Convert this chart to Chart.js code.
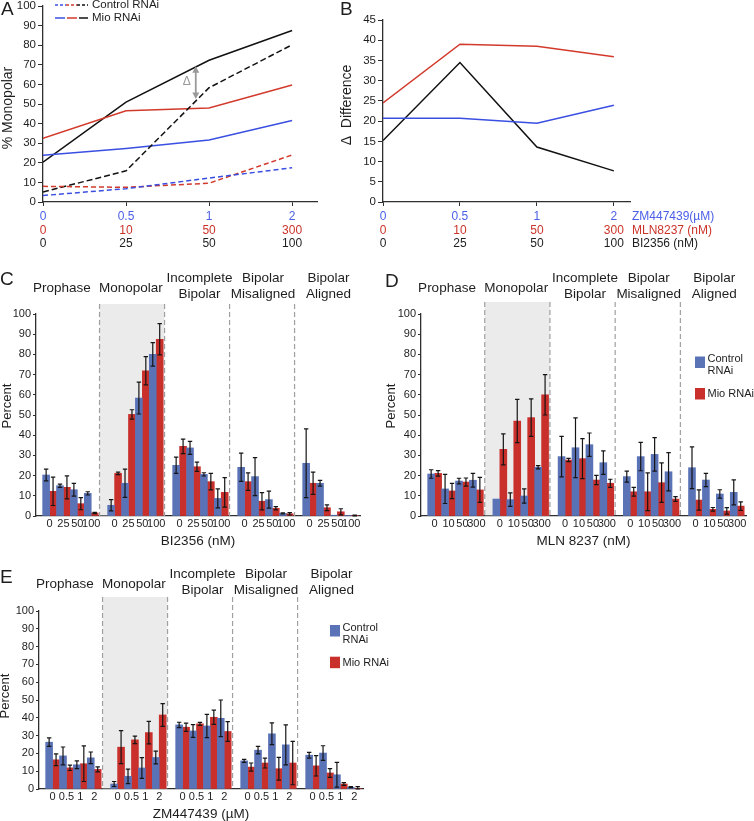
<!DOCTYPE html>
<html>
<head>
<meta charset="utf-8">
<script src="https://cdn.jsdelivr.net/npm/chart.js@4.4.1/dist/chart.umd.min.js"></script>
<style>
html,body{margin:0;padding:0;background:#fff;overflow:hidden;width:754px;height:821px;position:relative;}
canvas{position:absolute;}
</style>
</head>
<body>
<canvas id="cA" width="345" height="265" style="left:0;top:-10px"></canvas>
<canvas id="cB" width="424" height="265" style="left:330px;top:-10px"></canvas>
<canvas id="cC" width="380" height="300" style="left:0;top:250px"></canvas>
<canvas id="cD" width="374" height="300" style="left:380px;top:250px"></canvas>
<canvas id="cE" width="400" height="292" style="left:0;top:530px"></canvas>
<script>
// ---------------- DATA ----------------
// Panels A and B: dose steps and the three drugs' tick labels
const doseSteps = [0, 1, 2, 3];
const zmDoseLabels = ['0', '0.5', '1', '2'];
const mlnDoseLabels = ['0', '10', '50', '300'];
const biDoseLabels = ['0', '25', '50', '100'];

// Panel A: % monopolar (Control RNAi = dashed, Mio RNAi = solid)
const ctrlZM  = [3.3, 6.8, 12.2, 17.5];
const ctrlMLN = [8.0, 7.5, 9.6, 24.0];
const ctrlBI  = [5.1, 15.9, 58.3, 80.2];
const mioZM   = [23.8, 27.3, 31.6, 41.6];
const mioMLN  = [32.5, 46.5, 48.0, 59.7];
const mioBI   = [20.3, 51.0, 72.3, 87.5];

// Panel B: difference (Mio - Control)
const diffZM  = [20.7, 20.7, 19.5, 23.9];
const diffMLN = [24.5, 39.0, 38.5, 35.9];
const diffBI  = [15.2, 34.5, 13.6, 7.7];

// Panels C-E: mitotic stage categories
const stageTitles = [['Prophase'], ['Monopolar'], ['Incomplete', 'Bipolar'], ['Bipolar', 'Misaligned'], ['Bipolar', 'Aligned']];
const seriesNames = ['Control RNAi', 'Mio RNAi'];

// Panel C: BI2356 (nM)
const cDoses = ['0', '25', '50', '100'];
const cCtrl    = [20.3, 15.0, 13.0, 11.2,  5.3, 16.2, 58.4, 80.0,  25.1, 33.7, 20.6, 8.7,  24.1, 19.5, 8.1, 1.3,  26.1, 16.2, 0.4, 0.3];
const cCtrlErr = [2.9, 0.8, 3.2, 0.8,  2.8, 7.0, 7.9, 5.8,  4.0, 3.2, 0.8, 4.7,  7.0, 9.4, 4.2, 0.3,  17.0, 1.4, 0, 0];
const cMio     = [12.2, 14.2, 6.1, 1.5,  21.1, 50.3, 71.9, 87.5,  34.5, 24.4, 17.0, 11.7,  17.0, 7.3, 3.8, 1.1,  16.2, 4.1, 2.1, 0.3];
const cMioErr  = [7.0, 5.7, 3.0, 0.3,  0.6, 2.3, 7.0, 7.7,  3.6, 2.3, 4.1, 7.3,  4.3, 4.3, 0.8, 0.6,  5.5, 1.4, 1.5, 0.2];

// Panel D: MLN 8237 (nM)
const dDoses = ['0', '10', '50', '300'];
const dCtrl    = [20.8, 13.4, 17.3, 17.7,  8.4, 8.1, 9.9, 24.1,  29.4, 33.8, 35.3, 26.4,  19.5, 29.4, 30.5, 21.9,  23.9, 17.8, 10.9, 11.7];
const dCtrlErr = [2.1, 7.2, 1.4, 3.4,  0, 3.3, 3.5, 0.8,  10.0, 14.8, 5.8, 5.8,  2.7, 7.0, 8.3, 9.5,  10.3, 3.3, 2.1, 6.2];
const dMio     = [21.1, 12.4, 16.8, 12.9,  33.0, 47.0, 48.7, 60.0,  27.7, 28.4, 17.8, 16.2,  12.0, 12.0, 16.5, 8.4,  7.9, 3.3, 2.5, 4.9];
const dMioErr  = [1.4, 3.8, 2.0, 6.2,  7.7, 10.7, 9.3, 10.0,  0.8, 9.9, 2.3, 2.0,  2.2, 9.3, 9.8, 1.2,  5.0, 0.9, 1.6, 2.1];

// Panel E: ZM447439 (µM)
const eDoses = ['0', '0.5', '1', '2'];
const eCtrl    = [26.3, 18.6, 13.6, 17.5,  2.8, 7.1, 11.8, 17.7,  36.0, 32.6, 35.4, 39.7,  15.8, 21.8, 31.0, 24.8,  19.0, 20.2, 8.0, 1.0];
const eCtrlErr = [2.4, 5.0, 2.2, 3.3,  1.4, 4.1, 5.8, 3.6,  1.5, 3.6, 6.5, 10.3,  0.8, 2.1, 6.1, 11.2,  1.6, 4.1, 7.0, 0.3];
const eMio     = [16.4, 11.9, 14.2, 11.0,  23.5, 27.6, 31.7, 41.6,  34.7, 36.6, 40.3, 32.3,  12.3, 14.6, 11.4, 14.6,  13.0, 9.0, 2.8, 0.3];
const eMioErr  = [3.3, 1.5, 10.0, 1.4,  9.3, 2.1, 6.3, 6.4,  2.3, 0.8, 4.0, 5.6,  2.3, 2.8, 6.4, 12.2,  5.7, 2.5, 0.8, 1.0];

// ---------------- STYLE ----------------
const FONT = '"Liberation Sans", Arial, Helvetica, sans-serif';
Chart.defaults.font.family = FONT;
Chart.defaults.color = '#1e1e1e';
const TXT = '#1e1e1e';
const AXIS = '#2f2f2f';
const LINE_BLUE = '#3a4fe2';
const LINE_RED = '#d23a2c';
const LINE_BLACK = '#111111';
const TXT_BLUE = '#4a5fe6';
const TXT_RED = '#cc3328';
const BAR_BLUE = '#5a72b6';
const BAR_RED = '#c92f2b';
const ERR = '#151515';
const SHADE = '#ebebeb';
const DIVIDER = '#a0a0a0';

const f = (px) => `${px}px ${FONT}`;
function txt(ctx, s, x, y, font, color, align = 'center', base = 'middle', rot = 0) {
  ctx.save();
  ctx.font = font; ctx.fillStyle = color; ctx.textAlign = align; ctx.textBaseline = base;
  ctx.translate(x, y); if (rot) ctx.rotate(rot);
  ctx.fillText(s, 0, 0);
  ctx.restore();
}

// ---------------- PANELS A & B ----------------
function lineDS(label, values, color, dash) {
  return {
    label, data: values.map((v, i) => ({x: doseSteps[i], y: v})),
    borderColor: color, borderWidth: 1.5, borderDash: dash,
    pointRadius: 0, tension: 0, fill: false
  };
}
function lineScales(yMax, yStep, xMax, yWidth, xHeight) {
  return {
    x: {
      type: 'linear', min: 0, max: xMax,
      grid: {display: true, drawOnChartArea: false, drawTicks: true, tickLength: 4, color: AXIS},
      border: {display: true, color: AXIS, width: 1.3},
      ticks: {display: false},
      afterBuildTicks: s => { s.ticks = doseSteps.map(v => ({value: v})); },
      afterFit: s => { s.height = xHeight; }
    },
    y: {
      min: 0, max: yMax,
      grid: {display: true, drawOnChartArea: false, drawTicks: true, tickLength: 5, color: AXIS},
      border: {display: true, color: AXIS, width: 1.3},
      ticks: {stepSize: yStep, padding: 2, font: {size: 11.5}, color: TXT},
      afterFit: s => { s.width = yWidth; }
    }
  };
}
const doseRows = [
  {labels: zmDoseLabels, color: TXT_BLUE, title: 'ZM447439(\u00b5M)', dy: 15},
  {labels: mlnDoseLabels, color: TXT_RED, title: 'MLN8237 (nM)', dy: 28.5},
  {labels: biDoseLabels, color: TXT, title: 'BI2356 (nM)', dy: 42}
];
function drawRows(chart, withTitles) {
  const {ctx, chartArea: a, scales: {x}} = chart;
  doseRows.forEach(row => {
    row.labels.forEach((lab, i) => txt(ctx, lab, x.getPixelForValue(doseSteps[i]), a.bottom + row.dy, f(12), row.color));
    if (withTitles) txt(ctx, row.title, a.right + 2, a.bottom + row.dy, f(12), row.color, 'left');
  });
}

// Delta annotation position (in data units) for panel A
const deltaMark = {at: 1.84, top: 69.3, bottom: 52.5};

const decoA = {
  id: 'decoA',
  afterDraw(chart) {
    const {ctx, chartArea: a, scales: {x, y}} = chart;
    drawRows(chart, false);
    txt(ctx, 'A', 1, 25, f(19), TXT, 'left', 'alphabetic');
    txt(ctx, '% Monopolar', 8, 118, f(14), TXT, 'center', 'middle', -Math.PI / 2);
    ctx.save();
    ctx.lineWidth = 1.5;
    [[LINE_BLUE, 55, 66], [LINE_RED, 66, 77], [LINE_BLACK, 77, 88]].forEach(([c, x0, x1]) => {
      ctx.strokeStyle = c; ctx.setLineDash([3, 2]);
      ctx.beginPath(); ctx.moveTo(x0, 15); ctx.lineTo(x1, 15); ctx.stroke();
    });
    [[LINE_BLUE, 55, 65], [LINE_RED, 67, 77], [LINE_BLACK, 79, 88]].forEach(([c, x0, x1]) => {
      ctx.strokeStyle = c; ctx.setLineDash([]);
      ctx.beginPath(); ctx.moveTo(x0, 28); ctx.lineTo(x1, 28); ctx.stroke();
    });
    ctx.restore();
    txt(ctx, seriesNames[0], 92, 15, f(11.5), TXT, 'left');
    txt(ctx, seriesNames[1], 92, 28, f(11.5), TXT, 'left');
    const px = x.getPixelForValue(deltaMark.at);
    const y1 = y.getPixelForValue(deltaMark.top), y2 = y.getPixelForValue(deltaMark.bottom);
    ctx.save();
    ctx.strokeStyle = '#9a9a9a'; ctx.fillStyle = '#9a9a9a'; ctx.lineWidth = 1.8;
    ctx.beginPath(); ctx.moveTo(px, y1 + 5); ctx.lineTo(px, y2 - 5); ctx.stroke();
    ctx.beginPath(); ctx.moveTo(px, y1); ctx.lineTo(px - 3.5, y1 + 6.5); ctx.lineTo(px + 3.5, y1 + 6.5); ctx.closePath(); ctx.fill();
    ctx.beginPath(); ctx.moveTo(px, y2); ctx.lineTo(px - 3.5, y2 - 6.5); ctx.lineTo(px + 3.5, y2 - 6.5); ctx.closePath(); ctx.fill();
    ctx.restore();
    txt(ctx, '\u0394', px - 9, (y1 + y2) / 2 - 1, f(12), '#9a9a9a');
  }
};

new Chart(document.getElementById('cA'), {
  type: 'line',
  data: {datasets: [
    lineDS('Control RNAi ZM447439', ctrlZM, LINE_BLUE, [5, 3]),
    lineDS('Control RNAi MLN8237', ctrlMLN, LINE_RED, [5, 3]),
    lineDS('Control RNAi BI2356', ctrlBI, LINE_BLACK, [6, 3]),
    lineDS('Mio RNAi ZM447439', mioZM, LINE_BLUE, []),
    lineDS('Mio RNAi MLN8237', mioMLN, LINE_RED, []),
    lineDS('Mio RNAi BI2356', mioBI, LINE_BLACK, [])
  ]},
  options: {
    responsive: false, animation: false, events: [],
    layout: {padding: {left: 0, top: 16, right: 28, bottom: 0}},
    plugins: {legend: {display: false}, tooltip: {enabled: false}},
    scales: lineScales(100, 10, 3.3, 43, 53)
  },
  plugins: [decoA]
});

const decoB = {
  id: 'decoB',
  afterDraw(chart) {
    const {ctx} = chart;
    drawRows(chart, true);
    txt(ctx, 'B', 10, 25, f(19), TXT, 'left', 'alphabetic');
    txt(ctx, '\u0394  Difference', 17, 115, f(14), TXT, 'center', 'middle', -Math.PI / 2);
  }
};
new Chart(document.getElementById('cB'), {
  type: 'line',
  data: {datasets: [
    lineDS('ZM447439', diffZM, LINE_BLUE, []),
    lineDS('MLN8237', diffMLN, LINE_RED, []),
    lineDS('BI2356', diffBI, LINE_BLACK, [])
  ]},
  options: {
    responsive: false, animation: false, events: [],
    layout: {padding: {left: 0, top: 30, right: 124, bottom: 0}},
    plugins: {legend: {display: false}, tooltip: {enabled: false}},
    scales: lineScales(45, 5, 3.21, 53, 53)
  },
  plugins: [decoB]
});

// ---------------- PANELS C, D, E ----------------
const STRIDE = 4.685, XMIN = -0.48, XMAX = 22.87, DIV_AT = 4.1;
const TITLE_SHIFT = [-8.5, -4.5, -1, -2.5, -2];

function barChart(canvasId, p) {
  const xs = [];
  stageTitles.forEach((_, g) => p.doses.forEach((_, i) => xs.push(g * STRIDE + i + 0.5)));
  const pts = vals => vals.map((v, k) => ({x: xs[k], y: v}));
  const deco = {
    id: 'deco' + canvasId,
    beforeDatasetsDraw(chart) {
      const {ctx, chartArea: a, scales: {x}} = chart;
      const divs = [0, 1, 2, 3].map(g => x.getPixelForValue(g * STRIDE + DIV_AT));
      const top = a.top + p.sepTop;
      ctx.save();
      ctx.fillStyle = SHADE;
      ctx.fillRect(divs[0], top, divs[1] - divs[0], a.bottom - top - 0.7);
      ctx.strokeStyle = DIVIDER; ctx.lineWidth = 1.2; ctx.setLineDash([5, 3]);
      divs.forEach(d => { ctx.beginPath(); ctx.moveTo(d, top); ctx.lineTo(d, a.bottom); ctx.stroke(); });
      ctx.restore();
    },
    afterDatasetsDraw(chart) {
      const {ctx, scales: {y}} = chart;
      ctx.save();
      ctx.strokeStyle = ERR; ctx.lineWidth = 1.2;
      chart.data.datasets.forEach((ds, di) => {
        const meta = chart.getDatasetMeta(di);
        meta.data.forEach((bar, k) => {
          const e = ds.errors[k];
          if (!e) return;
          const v = ds.data[k].y;
          const yt = y.getPixelForValue(v + e), yb = y.getPixelForValue(Math.max(v - e, 0));
          const cx = bar.x, w = 2.2;
          ctx.beginPath();
          ctx.moveTo(cx, yt); ctx.lineTo(cx, yb);
          ctx.moveTo(cx - w, yt); ctx.lineTo(cx + w, yt);
          ctx.moveTo(cx - w, yb); ctx.lineTo(cx + w, yb);
          ctx.stroke();
        });
      });
      ctx.restore();
    },
    afterDraw(chart) {
      const {ctx, chartArea: a, scales: {x}} = chart;
      stageTitles.forEach((lines, g) => {
        const cx = x.getPixelForValue(g * STRIDE + p.doses.length / 2) + TITLE_SHIFT[g];
        if (lines.length === 1) txt(ctx, lines[0], cx, a.top + p.titleOne, f(13.5), TXT);
        else lines.forEach((ln, j) => txt(ctx, ln, cx, a.top + p.titleTwo[j], f(13.5), TXT));
      });
      txt(ctx, p.letter, p.letterPos[0], p.letterPos[1], f(19), TXT, 'left', 'alphabetic');
      txt(ctx, 'Percent', a.left + p.yTitle[0], a.top + p.yTitle[1], f(13), TXT, 'center', 'middle', -Math.PI / 2);
      if (p.legend) {
        const L = p.legend;
        ctx.save();
        ctx.fillStyle = BAR_BLUE; ctx.fillRect(L.x, L.y1, 10, 11.5);
        ctx.fillStyle = BAR_RED; ctx.fillRect(L.x, L.y2, 10, 11.5);
        ctx.restore();
        const parts = seriesNames[0].split(' ');
        txt(ctx, parts[0], L.x + 12.5, L.y1 + 2.5, f(11), TXT, 'left');
        txt(ctx, parts[1], L.x + 12.5, L.y1 + 14.5, f(11), TXT, 'left');
        txt(ctx, seriesNames[1], L.x + 12.5, L.y2 + 6.3, f(11), TXT, 'left');
      }
    }
  };
  return new Chart(document.getElementById(canvasId), {
    type: 'bar',
    data: {datasets: [
      {label: seriesNames[0], data: pts(p.ctrl), errors: p.ctrlErr, backgroundColor: BAR_BLUE, borderWidth: 0, categoryPercentage: 1, barPercentage: 1},
      {label: seriesNames[1], data: pts(p.mio), errors: p.mioErr, backgroundColor: BAR_RED, borderWidth: 0, categoryPercentage: 1, barPercentage: 1}
    ]},
    options: {
      responsive: false, animation: false, events: [],
      layout: {padding: {left: 0, top: p.padTop, right: p.padRight, bottom: 0}},
      plugins: {legend: {display: false}, tooltip: {enabled: false}},
      scales: {
        x: {
          type: 'linear', min: XMIN, max: XMAX, offset: false,
          grid: {display: false, drawTicks: false, offset: false},
          border: {display: true, color: AXIS, width: 1.3},
          afterBuildTicks: s => { s.ticks = xs.map(v => ({value: v})); },
          ticks: {autoSkip: false, maxRotation: 0, minRotation: 0, padding: 1.5, font: {size: 11}, color: TXT,
                  callback: (v, i) => p.doses[i % p.doses.length]},
          title: {display: true, text: p.xTitle, font: {size: 13.5}, color: TXT, padding: {top: 0, bottom: p.xTitlePad}},
          afterFit: s => { s.height = p.xHeight; }
        },
        y: {
          min: 0, max: 100,
          grid: {display: true, drawOnChartArea: false, drawTicks: true, tickLength: 3, color: AXIS},
          border: {display: true, color: AXIS, width: 1.3},
          ticks: {stepSize: 10, padding: 2, font: {size: 11}, color: TXT},
          afterFit: s => { s.width = p.yWidth; }
        }
      }
    },
    plugins: [deco]
  });
}

barChart('cC', {
  doses: cDoses, ctrl: cCtrl, ctrlErr: cCtrlErr, mio: cMio, mioErr: cMioErr,
  xTitle: 'BI2356 (nM)', xTitlePad: 1, xHeight: 34, yWidth: 36, padTop: 64, padRight: 20,
  sepTop: -10, titleOne: -26, titleTwo: [-36, -20], letter: 'C', letterPos: [0, 35], yTitle: [-29, 92]
});
barChart('cD', {
  doses: dDoses, ctrl: dCtrl, ctrlErr: dCtrlErr, mio: dMio, mioErr: dMioErr,
  xTitle: 'MLN 8237 (nM)', xTitlePad: 1, xHeight: 34, yWidth: 41, padTop: 64, padRight: 8,
  sepTop: -12, titleOne: -26, titleTwo: [-36, -20], letter: 'D', letterPos: [5, 37], yTitle: [-30, 92],
  legend: {x: 315, y1: 106.5, y2: 138}
});
barChart('cE', {
  doses: eDoses, ctrl: eCtrl, ctrlErr: eCtrlErr, mio: eMio, mioErr: eMioErr,
  xTitle: 'ZM447439 (\u00b5M)', xTitlePad: 0, xHeight: 33, yWidth: 39, padTop: 81, padRight: 37,
  sepTop: -14, titleOne: -27, titleTwo: [-37, -21], letter: 'E', letterPos: [0, 53], yTitle: [-34, 85],
  legend: {x: 330, y1: 95, y2: 126.7}
});
</script>
</body>
</html>
